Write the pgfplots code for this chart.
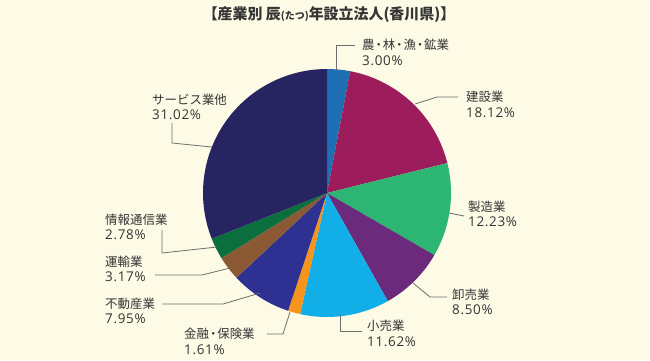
\documentclass[border=0pt]{standalone}
\usepackage{pgfplots}
\pgfplotsset{compat=1.18}
\usepackage{pgfplotstable}
\usepackage{fontspec}
\setmainfont{Noto Sans CJK JP}
\newfontfamily\numfont[LetterSpace=5]{Open Sans}
\definecolor{bgc}{HTML}{FDFAE6}
\definecolor{txt}{HTML}{353535}
\definecolor{lead}{HTML}{6E6E6E}
\definecolor{c1}{HTML}{1F6FB5}
\definecolor{c2}{HTML}{9C1C5C}
\definecolor{c3}{HTML}{2DB574}
\definecolor{c4}{HTML}{6B2A7B}
\definecolor{c5}{HTML}{12AEE8}
\definecolor{c6}{HTML}{F7941D}
\definecolor{c7}{HTML}{2E3192}
\definecolor{c8}{HTML}{8B5A35}
\definecolor{c9}{HTML}{0B6E3D}
\definecolor{c10}{HTML}{262461}
\pgfplotstableread{
val col
3.00 c1
18.12 c2
12.23 c3
8.50 c4
11.62 c5
1.61 c6
7.95 c7
3.17 c8
2.78 c9
31.02 c10
}\piedata
\begin{document}
\begin{tikzpicture}
\begin{axis}[width=650bp,height=360bp,scale only axis,
  xmin=0,xmax=650,ymin=0,ymax=360,y dir=reverse,hide axis,clip=false]
\fill[bgc] (axis cs:0,0) rectangle (axis cs:650,360);
\pgfplotstablegetrowsof{\piedata}
\pgfmathtruncatemacro{\N}{\pgfplotsretval-1}
\def\cum{0}
\pgfplotsforeachungrouped \i in {0,...,\N}{%
  \pgfplotstablegetelem{\i}{val}\of\piedata \let\v\pgfplotsretval
  \pgfplotstablegetelem{\i}{col}\of\piedata \let\c\pgfplotsretval
  \pgfmathsetmacro{\a}{90-3.6*\cum}%
  \pgfmathsetmacro{\b}{90-3.6*(\cum+\v)}%
  \pgfmathsetmacro{\cum}{\cum+\v}%
  \edef\temp{\noexpand\addplot[fill=\c,draw=none,domain=\b:\a,samples=80,variable=\noexpand\t]
    ({327+124*cos(\noexpand\t)},{193-124*sin(\noexpand\t)}) -- (axis cs:327,193) -- cycle;}%
  \temp
}
% title
\node[txt,font=\fontsize{15}{17}\selectfont\bfseries] at (axis cs:329,15)
  {【産業別 辰{\fontsize{10}{11}\selectfont(たつ)}年設立法人(香川県)】};
% leader lines
\begin{scope}[lead,line width=0.8bp]
\draw (axis cs:336,70) -- (axis cs:336,45) -- (axis cs:355,45);
\draw (axis cs:415,104) -- (axis cs:437,97) -- (axis cs:458,97);
\draw (axis cs:449,213) -- (axis cs:464,216);
\draw (axis cs:413,283) -- (axis cs:430,297) -- (axis cs:447,297);
\draw (axis cs:340,315) -- (axis cs:340,331) -- (axis cs:362,331);
\draw (axis cs:290,312) -- (axis cs:283,334) -- (axis cs:267,334);
\draw (axis cs:260,293) -- (axis cs:223,304) -- (axis cs:162,304);
\draw (axis cs:230,268) -- (axis cs:202,275) -- (axis cs:155,275);
\draw (axis cs:217,247) -- (axis cs:162,253) -- (axis cs:162,230);
\draw (axis cs:212,147) -- (axis cs:172,143) -- (axis cs:172,123);
\end{scope}
% labels
\begin{scope}[every node/.style={txt,anchor=west,inner sep=0pt,font=\fontsize{12.5}{14}\selectfont}]
\node at (axis cs:362,45) {農\kern-.17em・\kern-.17em林\kern-.17em・\kern-.17em漁\kern-.17em・\kern-.17em鉱業};
\node at (axis cs:362,61) {\numfont\fontsize{13.5}{15}\selectfont 3.00\%};
\node at (axis cs:466,97) {建設業};
\node at (axis cs:466,113) {\numfont\fontsize{13.5}{15}\selectfont 18.12\%};
\node at (axis cs:468,207) {製造業};
\node at (axis cs:468,222) {\numfont\fontsize{13.5}{15}\selectfont 12.23\%};
\node at (axis cs:452,295) {卸売業};
\node at (axis cs:452,310) {\numfont\fontsize{13.5}{15}\selectfont 8.50\%};
\node at (axis cs:367,326) {小売業};
\node at (axis cs:367,342) {\numfont\fontsize{13.5}{15}\selectfont 11.62\%};
\node at (axis cs:184,334) {金融\kern-.17em・\kern-.17em保険業};
\node at (axis cs:184,350) {\numfont\fontsize{13.5}{15}\selectfont 1.61\%};
\node at (axis cs:105,304) {不動産業};
\node at (axis cs:105,319) {\numfont\fontsize{13.5}{15}\selectfont 7.95\%};
\node at (axis cs:105,262) {運輸業};
\node at (axis cs:105,277) {\numfont\fontsize{13.5}{15}\selectfont 3.17\%};
\node at (axis cs:105,220) {情報通信業};
\node at (axis cs:105,235) {\numfont\fontsize{13.5}{15}\selectfont 2.78\%};
\node at (axis cs:152,100) {サービス業他};
\node at (axis cs:152,115) {\numfont\fontsize{13.5}{15}\selectfont 31.02\%};
\end{scope}
\end{axis}
\end{tikzpicture}
\end{document}
